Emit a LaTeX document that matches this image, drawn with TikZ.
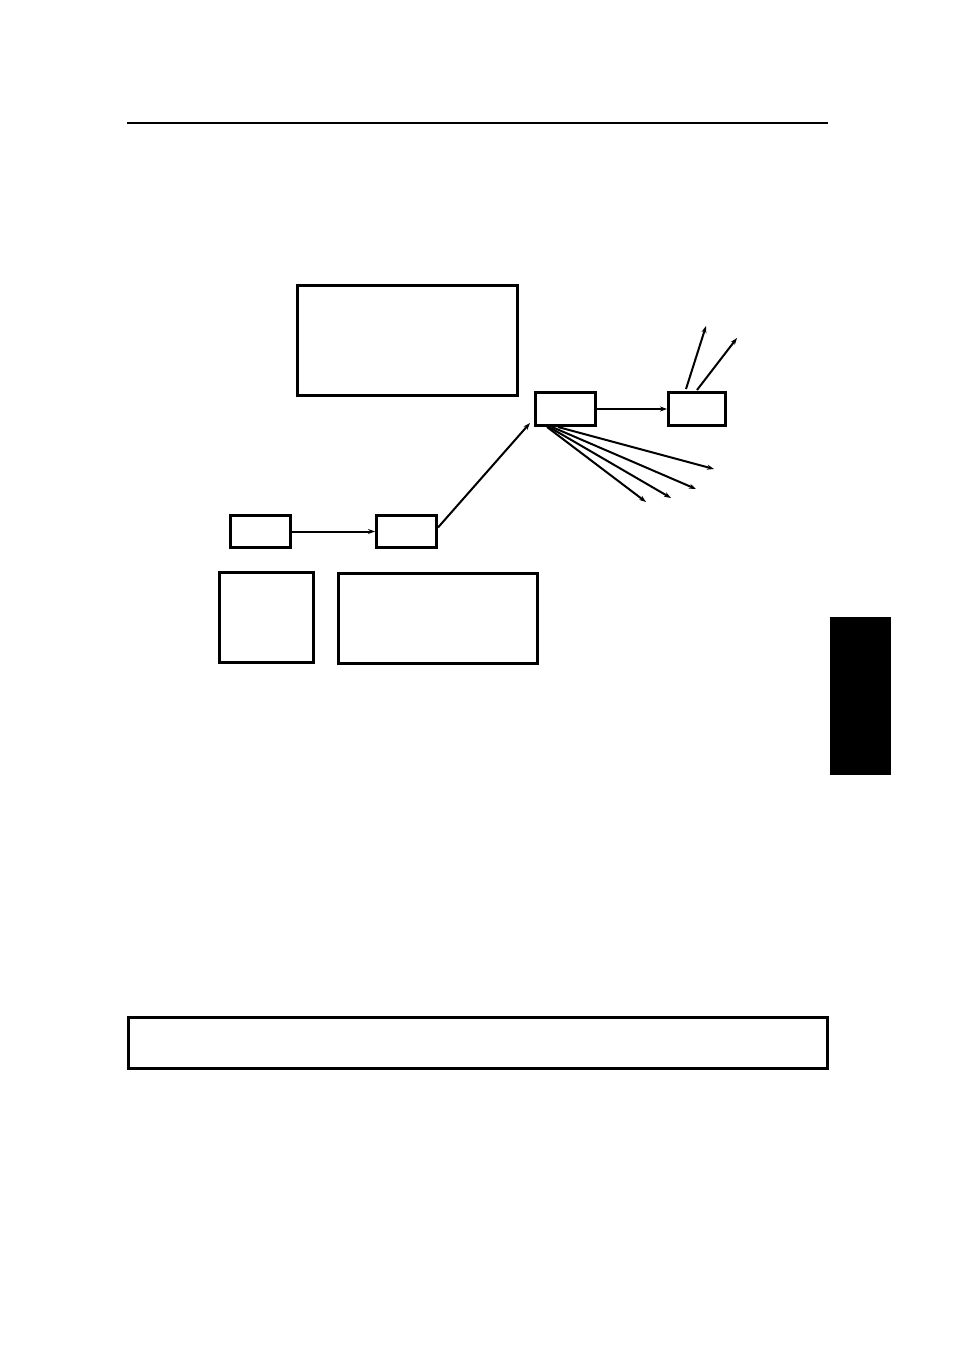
\documentclass[tikz,border=0pt]{standalone}
\usepackage{tikz}
\usetikzlibrary{arrows.meta}
\tikzset{x=1pt, y=-1pt,
    box/.style={draw, line width=3pt, inner sep=0pt, minimum width=#1},
    box/.default=60pt,
    frame/.style={line width=3pt},
    link/.style={line width=2pt, -{Stealth[length=7pt,width=5pt]}},
    }
\begin{document}
\begin{tikzpicture}
\useasboundingbox (0,0) rectangle (954,1351);
% page furniture
\draw[line width=2pt] (127,123) -- (828,123);
\fill (830,617) rectangle (891,775);
\draw[frame] (128,1017) rectangle (827,1068);
% boxes
\draw[frame] (297,285) rectangle (517,395);
\node[box=60pt, minimum height=33pt] (hub) at (565.5,409) {};
\node[box=57pt, minimum height=33pt] (out) at (697,409) {};
\node[box=60pt, minimum height=32pt] (src) at (260.5,531.5) {};
\node[box=60pt, minimum height=32pt] (mid) at (406.5,531.5) {};
\draw[frame] (219,572) rectangle (313,662);
\draw[frame] (338,573) rectangle (537,663);
% free ends
\coordinate (u1) at (706,326);
\coordinate (u2) at (737,338);
\coordinate (f1) at (646,502);
\coordinate (f2) at (671,498);
\coordinate (f3) at (696,489);
\coordinate (f4) at (714,469);
% connectors
\draw[link] (src.east) -- (mid.west);
\draw[link] (mid.east) ++(0,-4) -- ([shift={(-4,-4)}]hub.south west);
\draw[link] (hub.east) -- (out.west);
\draw[link] (out.north west) ++(19,-2) -- (u1);
\draw[link] (out.north west) ++(30,-1) -- (u2);
\draw[link] (hub.south west) ++(13,0) -- (f1);
\draw[link] (hub.south west) ++(15,0) -- (f2);
\draw[link] (hub.south west) ++(18,0) -- (f3);
\draw[link] (hub.south west) ++(24,0) -- (f4);
\end{tikzpicture}
\end{document}
